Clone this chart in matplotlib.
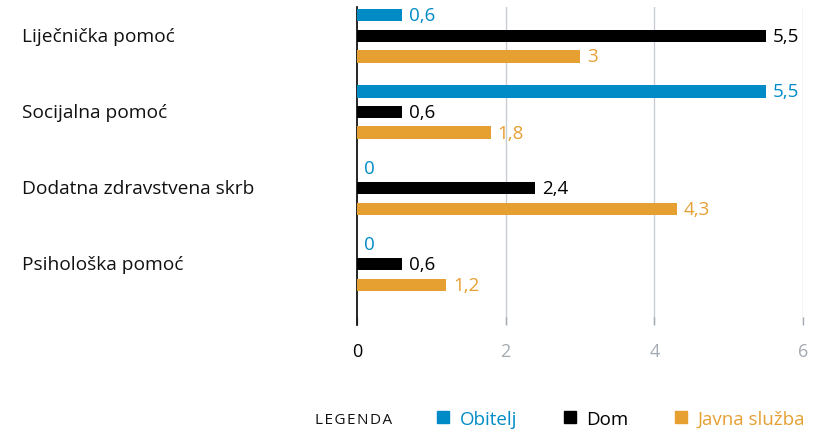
import matplotlib
matplotlib.use("Agg")
import matplotlib.pyplot as plt
from matplotlib.lines import Line2D
import numpy as np

categories = ["Liječnička pomoć", "Socijalna pomoć", "Dodatna zdravstvena skrb", "Psihološka pomoć"]
series_names = ["Obitelj", "Dom", "Javna služba"]
obitelj = [0.6, 5.5, 0, 0]
dom = [5.5, 0.6, 2.4, 0.6]
javna = [3, 1.8, 4.3, 1.2]
x_ticks = [0, 2, 4, 6]

colors = ["#008bc7", "#000000", "#e6a032"]
grid_col = "#c9cdd3"
tick_col = "#a3aab2"

plt.rcParams["font.family"] = ["Open Sans", "DejaVu Sans"]

fig = plt.figure(figsize=(8.21, 4.31), dpi=100)
ax = fig.add_axes([357 / 821, 1 - 326 / 431, (803 - 357) / 821, (326 - 8) / 431])

y = np.arange(len(categories))
offsets = [-0.27, 0, 0.27]
bar_h = 0.16

for vals, off, col in zip([obitelj, dom, javna], offsets, colors):
    ax.barh(y + off, vals, height=bar_h, color=col, zorder=3)
    for yi, v in zip(y, vals):
        txt = f"{v:g}".replace(".", ",")
        ax.annotate(txt, (v, yi + off), xytext=(5, 0), textcoords="offset points",
                    ha="left", va="center", color=col, fontsize=13.5)

ax.set_xlim(0, 6)
ax.set_ylim(3.8, -0.38)
ax.set_xticks(x_ticks)
ax.set_xticklabels([str(t) for t in x_ticks], fontsize=13)
for lbl, t in zip(ax.get_xticklabels(), x_ticks):
    lbl.set_color("#000000" if t == 0 else tick_col)
ax.tick_params(axis="x", length=6, width=1, color=tick_col, pad=12, direction="in")
ax.get_xticklines()[0].set_color("#000000")
ax.set_yticks([])
for t in x_ticks[1:]:
    ax.axvline(t, color=grid_col, lw=1, zorder=1)
for s in ["top", "right", "bottom"]:
    ax.spines[s].set_visible(False)
ax.spines["left"].set_color("#000000")
ax.spines["left"].set_linewidth(1.2)
ax.set_facecolor("none")

# category labels sit at the left edge of the figure
for yi, cat in zip(y, categories):
    ax.text(-335 / 446 * 6, yi, cat, fontsize=13.8, va="center", ha="left", color="#111111")

fig.text(315 / 821, 1 - 421 / 431, "L\u200aE\u200aG\u200aE\u200aN\u200aD\u200aA", fontsize=11,
         va="center", ha="left", color="#111111")
handles = [Line2D([], [], marker="s", ls="none", color=c, markersize=9) for c in colors]
leg = fig.legend(handles, series_names, loc="center left", bbox_to_anchor=(424 / 821, 1 - 420 / 431),
                 ncol=3, frameon=False, fontsize=13.5, labelcolor="markerfacecolor",
                 handletextpad=0.3, columnspacing=2.2, handlelength=1.2, borderaxespad=0)

fig.savefig("out.png", dpi=100)
